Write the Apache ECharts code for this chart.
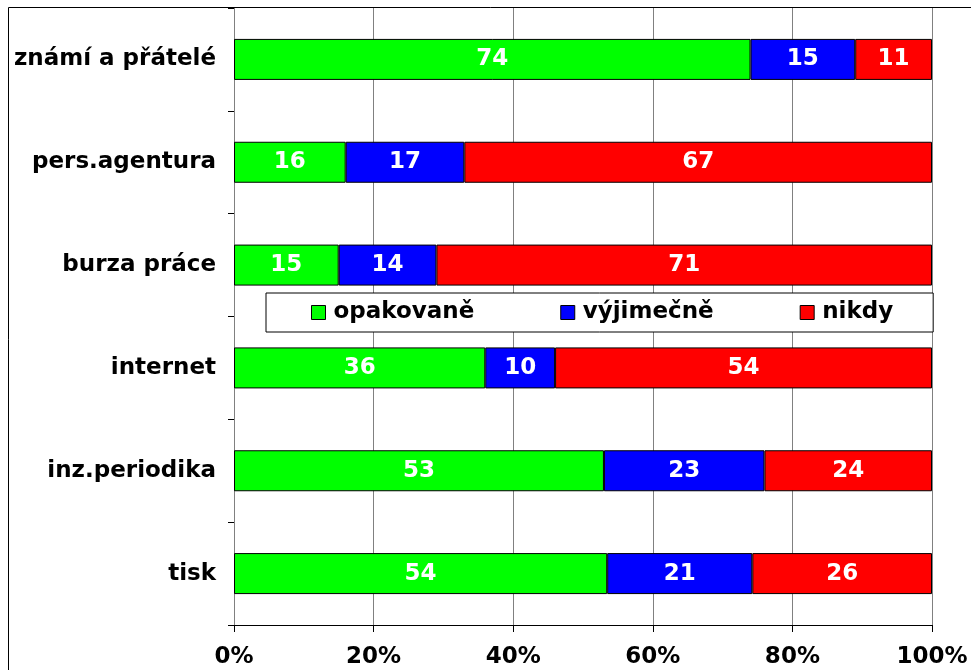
<!DOCTYPE html>
<html>
<head>
<meta charset="utf-8">
<script src="https://cdn.jsdelivr.net/npm/echarts@6/dist/echarts.min.js"></script>
<style>html,body{margin:0;padding:0;background:#fff;}#c{width:971px;height:670px;}</style>
</head>
<body>
<div id="c"></div>
<script>
const categories = ['známí a přátelé', 'pers.agentura', 'burza práce', 'internet', 'inz.periodika', 'tisk'];
const seriesNames = ['opakovaně', 'výjimečně', 'nikdy'];
const opakovane = [74, 16, 15, 36, 53, 54];
const vyjimecne = [15, 17, 14, 10, 23, 21];
const nikdy = [11, 67, 71, 54, 24, 26];
const colors = ['#00FF00', '#0000FF', '#FF0000'];

const raw = [opakovane, vyjimecne, nikdy];
const totals = categories.map((_, i) => raw.reduce((s, a) => s + a[i], 0));
const FONT = 'DejaVu Sans';
const FS = 23;

const chart = echarts.init(document.getElementById('c'), null, {renderer: 'canvas'});
chart.setOption({
  animation: false,
  backgroundColor: '#fff',
  graphic: [{
    type: 'rect', z: 100, silent: true,
    shape: {x: 8.5, y: 7.5, width: 1200, height: 1200},
    style: {fill: 'none', stroke: '#000', lineWidth: 1}
  }],
  grid: {left: 234, right: 39, top: 8, bottom: 45, containLabel: false},
  legend: {
    data: seriesNames,
    left: 266, top: 293,
    orient: 'horizontal',
    backgroundColor: '#fff', borderColor: '#000', borderWidth: 1,
    padding: [8, 40, 8, 45],
    itemGap: 86, itemWidth: 14, itemHeight: 14,
    itemStyle: {borderColor: '#000', borderWidth: 1},
    textStyle: {fontFamily: FONT, fontWeight: 'bold', fontSize: FS, color: '#000', padding: [0, 0, 0, 3]},
    icon: 'rect'
  },
  xAxis: {
    type: 'value', min: 0, max: 100, interval: 20,
    axisLine: {show: true, lineStyle: {color: '#000', width: 1}},
    axisTick: {show: true, length: 7, lineStyle: {color: '#000'}},
    splitLine: {show: true, lineStyle: {color: '#808080', width: 1}},
    axisLabel: {formatter: '{value}%', margin: 21, fontFamily: FONT, fontWeight: 'bold', fontSize: FS, color: '#000'}
  },
  yAxis: {
    type: 'category', inverse: true, data: categories,
    axisLine: {show: true, lineStyle: {color: '#808080', width: 1}},
    axisTick: {show: true, length: 6, alignWithLabel: false, lineStyle: {color: '#000'}},
    axisLabel: {margin: 18, fontFamily: FONT, fontWeight: 'bold', fontSize: FS, color: '#000'}
  },
  series: raw.map((arr, k) => ({
    name: seriesNames[k],
    type: 'bar', stack: 'total', barWidth: 41,
    itemStyle: {color: colors[k], borderColor: '#000', borderWidth: 1},
    label: {
      show: true, position: 'inside', color: '#fff',
      fontFamily: FONT, fontWeight: 'bold', fontSize: FS,
      formatter: p => String(arr[p.dataIndex])
    },
    data: arr.map((v, i) => v / totals[i] * 100)
  }))
});
</script>
</body>
</html>
